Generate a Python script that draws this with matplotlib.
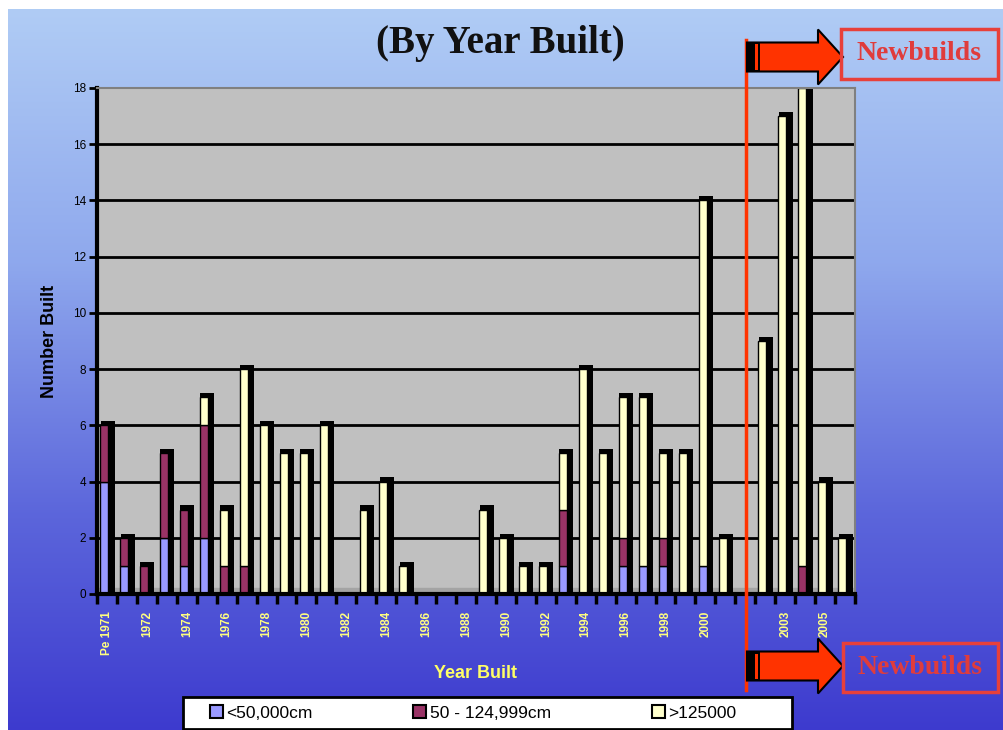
import numpy as np
import matplotlib.pyplot as plt
from matplotlib.patches import Patch, Polygon, Rectangle
from matplotlib.lines import Line2D

plt.rcParams['font.family'] = ['Liberation Sans', 'DejaVu Sans']

# categories (blank slot separates the newbuilds)
years = ["Pe 1971"] + [str(y) for y in range(1971, 2002)] + [""] + [str(y) for y in range(2002, 2007)]

# number built per size band
small = [4, 1, 0, 2, 1, 2, 0, 0, 0, 0, 0, 0, 0, 0, 0, 0, 0, 0, 0, 0,
         0, 0, 0, 1, 0, 0, 1, 1, 1, 0, 1, 0, 0, 0, 0, 0, 0, 0]
mid = [2, 1, 1, 3, 2, 4, 1, 1, 0, 0, 0, 0, 0, 0, 0, 0, 0, 0, 0, 0,
       0, 0, 0, 2, 0, 0, 1, 0, 1, 0, 0, 0, 0, 0, 0, 1, 0, 0]
large = [0, 0, 0, 0, 0, 1, 2, 7, 6, 5, 5, 6, 0, 3, 4, 1, 0, 0, 0, 3,
         2, 1, 1, 2, 8, 5, 5, 6, 3, 5, 13, 2, 0, 9, 17, 17, 4, 2]

series_names = ["<50,000cm", "50 - 124,999cm", ">125000"]
series_colors = ["#9999ff", "#993366", "#ffffcc"]

W, H = 1004, 730


def fx(px):
    return px / W


def fy(py):
    return 1 - py / H


fig = plt.figure(figsize=(W / 100, H / 100), dpi=100)
fig.patch.set_facecolor("white")

# gradient slide background
bg = fig.add_axes([fx(8), 0, 1 - fx(8), fy(9)], zorder=-10)
t = np.linspace(0, 1, 256)
stops = [0.0, 0.35, 0.7, 1.0]
r = np.interp(t, stops, [0.69, 0.56, 0.36, 0.24])
g = np.interp(t, stops, [0.80, 0.66, 0.40, 0.23])
b = np.interp(t, stops, [0.96, 0.93, 0.86, 0.81])
grad = np.stack([r, g, b], axis=1)[:, None, :]
bg.imshow(grad, aspect="auto", extent=[0, 1, 0, 1])
bg.axis("off")

# chart
ax = fig.add_axes([fx(97), fy(594), fx(855) - fx(97), fy(88) - fy(594)])
ax.set_facecolor("#c0c0c0")
ax.set_xlim(-0.5, len(years) - 0.5)
ax.set_ylim(0, 18)

x = np.arange(len(years))
s = np.array(small)
m = np.array(mid)
l = np.array(large)
total = s + m + l

ax.hlines(range(2, 18, 2), -0.5, len(years) - 0.5, color="black", lw=2, zorder=0.5)
ax.axhspan(0, 0.22, color="#a4a4a4", zorder=0.6)

# black 3D depth behind each bar
ax.bar(x + 0.03, np.where(total > 0, total + 0.15, 0), 0.70, color="black", zorder=1)

bottom = np.zeros(len(years))
for vals, col in zip([s, m, l], series_colors):
    ec = ["black" if v > 0 else "none" for v in vals]
    ax.bar(x - 0.14, vals, 0.40, bottom=bottom, color=col, edgecolor=ec, lw=1, zorder=2)
    bottom = bottom + vals

ax.spines["left"].set_linewidth(3)
ax.spines["bottom"].set_linewidth(3)
ax.spines["top"].set_color("#808080")
ax.spines["right"].set_color("#808080")
ax.spines["top"].set_linewidth(1.5)
ax.spines["right"].set_linewidth(1.5)

ax.set_yticks(range(0, 19, 2))
ax.tick_params(axis="y", direction="out", length=6, width=2, labelsize=8.5, pad=2, colors="black")
ax.set_xticks(x[::2])
ax.set_xticklabels(years[::2], rotation=90, color="#ffff80", fontsize=8.5, fontweight="bold")
ax.tick_params(axis="x", which="major", length=0, pad=12)
ax.set_xticks(np.arange(-0.5, len(years), 1), minor=True)
ax.tick_params(axis="x", which="minor", direction="out", length=7, width=2.5)

fig.text(fx(476), fy(674), "Year Built", color="#ffff66", fontsize=13, fontweight="bold",
         ha="center", va="center")
fig.text(fx(50), fy(341), "Number Built", color="black", fontsize=13, fontweight="bold",
         rotation=90, ha="center", va="center")
fig.text(fx(500), fy(44), "(By Year Built)", fontsize=28, fontweight="bold",
         family="Liberation Serif", ha="center", va="center", color="#111111")

# newbuilds marker line and arrows
fig.add_artist(Line2D([fx(746), fx(746)], [fy(40), fy(690)], color="#ff3300", lw=2.5,
                      transform=fig.transFigure, zorder=5))


def block_arrow(x0, x1, yc, shaft_h=29, head_h=55, head_len=25):
    xs = x1 - head_len
    pts = [(x0, yc - shaft_h / 2), (xs, yc - shaft_h / 2), (xs, yc - head_h / 2), (x1, yc),
           (xs, yc + head_h / 2), (xs, yc + shaft_h / 2), (x0, yc + shaft_h / 2)]
    pts = [(fx(a), fy(c)) for a, c in pts]
    fig.add_artist(Polygon(pts, closed=True, facecolor="#ff3300", edgecolor="black", lw=1.5,
                           transform=fig.transFigure, zorder=6))
    fig.add_artist(Rectangle((fx(x0), fy(yc + shaft_h / 2)), fx(13), shaft_h / H,
                             facecolor="black", transform=fig.transFigure, zorder=7))
    fig.add_artist(Rectangle((fx(x0 + 8), fy(yc + shaft_h / 2 - 2)), fx(3), (shaft_h - 4) / H,
                             facecolor="#ff3300", transform=fig.transFigure, zorder=8))


def label_box(x0, y0, x1, y1):
    fig.add_artist(Rectangle((fx(x0), fy(y1)), fx(x1 - x0), (y1 - y0) / H, fill=False,
                             edgecolor="#e8403a", lw=2.5, transform=fig.transFigure, zorder=6))
    fig.text(fx((x0 + x1) / 2), fy((y0 + y1) / 2), "Newbuilds", color="#e03c3c", fontsize=20,
             fontweight="bold", family="Liberation Serif", ha="center", va="center", zorder=7)


block_arrow(747, 843, 57)
block_arrow(747, 843, 666)
label_box(841, 29, 998, 79)
label_box(843, 643, 998, 692)

# legend box drawn by hand, entries from a frameless legend
fig.add_artist(Rectangle((fx(183), fy(729)), fx(792 - 183), (729 - 697) / H, facecolor="white",
                         edgecolor="black", lw=2, transform=fig.transFigure, zorder=8))
handles = [Patch(facecolor=c, edgecolor="black", lw=1.5) for c in series_colors]
leg = fig.legend(handles, series_names, loc="center", bbox_to_anchor=(fx(473), fy(713)), ncol=3,
                 frameon=False, fontsize=12.5, handlelength=0.75, handleheight=0.75,
                 columnspacing=5.8, handletextpad=0.2, borderpad=0.1)
leg.set_zorder(9)

fig.savefig("out.png", dpi=100)
